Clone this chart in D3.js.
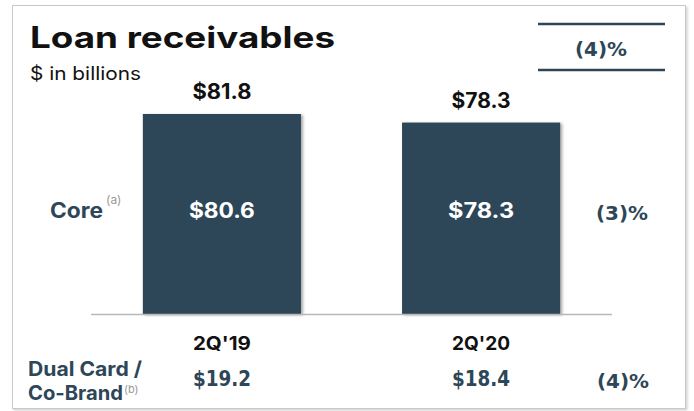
<!DOCTYPE html>
<html>
<head>
<meta charset="utf-8">
<script src="https://cdn.jsdelivr.net/npm/d3@7"></script>
<style>
  html, body { margin: 0; padding: 0; background: #fff; }
  svg { display: block; }
</style>
</head>
<body>
<script>
// Loan receivables, $ in billions
const periods = ["2Q'19", "2Q'20"];
const totals = [81.8, 78.3];
const core = [80.6, 78.3];
const dualCard = [19.2, 18.4];
const totalChange = "(4)%";
const coreChange = "(3)%";
const dualChange = "(4)%";

const W = 694, H = 411;
const slate = "#2d4658";
const geo = "Inter, 'Open Sans', sans-serif";
const din = "'DejaVu Sans Condensed', 'DejaVu Sans', sans-serif";

const svg = d3.select("body").append("svg")
  .attr("width", W).attr("height", H);

const defs = svg.append("defs");
const sh = defs.append("filter").attr("id", "barShadow")
  .attr("x", "-10%").attr("y", "-10%").attr("width", "130%").attr("height", "130%");
sh.append("feDropShadow").attr("dx", 2).attr("dy", 1).attr("stdDeviation", 1.5)
  .attr("flood-color", "#000").attr("flood-opacity", 0.35);
const fs = defs.append("filter").attr("id", "frameShadow")
  .attr("x", "-5%").attr("y", "-5%").attr("width", "110%").attr("height", "110%");
fs.append("feDropShadow").attr("dx", 1.5).attr("dy", 1.5).attr("stdDeviation", 1.2)
  .attr("flood-color", "#000").attr("flood-opacity", 0.18);

// card frame
svg.append("rect")
  .attr("x", 12.5).attr("y", 5.5).attr("width", 673).attr("height", 403)
  .attr("fill", "#fff").attr("stroke", "#c9c9c9").attr("stroke-width", 1)
  .attr("filter", "url(#frameShadow)");

// scales
const x = d3.scaleBand().domain(periods).range([91, 612])
  .paddingInner(0.39).paddingOuter(0.2);
const y = d3.scaleLinear().domain([0, d3.max(totals)]).range([314, 114]);

// wide geometric text helper
function wideText(tx, ty, str, size, weight, fill, len) {
  return svg.append("text").attr("x", tx).attr("y", ty)
    .attr("font-family", geo).attr("font-weight", weight).attr("font-size", size)
    .attr("fill", fill)
    .attr("textLength", len).attr("lengthAdjust", "spacingAndGlyphs")
    .text(str);
}

// title
wideText(30, 48, "Loan receivables", 29.5, 700, "#111", 305);
wideText(30, 80, "$ in billions", 18, 400, "#111", 111);

// bars
const rows = periods.map((p, i) => ({ p, total: totals[i], core: core[i], dual: dualCard[i] }));

svg.append("g").selectAll("rect").data(rows).join("rect")
  .attr("x", d => x(d.p)).attr("width", x.bandwidth())
  .attr("y", d => y(d.total)).attr("height", d => y(0) - y(d.total))
  .attr("fill", slate).attr("filter", "url(#barShadow)");

// baseline
svg.append("line").attr("x1", 91).attr("x2", 612)
  .attr("y1", y(0) + 0.5).attr("y2", y(0) + 0.5)
  .attr("stroke", "#b8b8b8").attr("stroke-width", 1.5);

// totals above bars
svg.append("g").selectAll("text").data(rows).join("text")
  .attr("x", d => x(d.p) + x.bandwidth() / 2).attr("y", d => y(d.total) - 15)
  .attr("text-anchor", "middle")
  .attr("font-family", geo).attr("font-weight", 700).attr("font-size", 21)
  .attr("fill", "#111")
  .attr("textLength", 59).attr("lengthAdjust", "spacingAndGlyphs")
  .text(d => "$" + d.total.toFixed(1));

// core values inside bars
svg.append("g").selectAll("text").data(rows).join("text")
  .attr("x", d => x(d.p) + x.bandwidth() / 2).attr("y", 218)
  .attr("text-anchor", "middle")
  .attr("font-family", geo).attr("font-weight", 700).attr("font-size", 21)
  .attr("fill", "#fff")
  .attr("textLength", 66).attr("lengthAdjust", "spacingAndGlyphs")
  .text(d => "$" + d.core.toFixed(1));

// period labels
svg.append("g").selectAll("text").data(rows).join("text")
  .attr("x", d => x(d.p) + x.bandwidth() / 2).attr("y", 350)
  .attr("text-anchor", "middle")
  .attr("font-family", geo).attr("font-weight", 700).attr("font-size", 19)
  .attr("fill", "#111")
  .attr("textLength", 58).attr("lengthAdjust", "spacingAndGlyphs")
  .text(d => d.p);

// dual card / co-brand values
svg.append("g").selectAll("text").data(rows).join("text")
  .attr("x", d => x(d.p) + x.bandwidth() / 2).attr("y", 386)
  .attr("text-anchor", "middle")
  .attr("font-family", din).attr("font-weight", 700).attr("font-size", 21)
  .attr("fill", slate)
  .attr("textLength", 58).attr("lengthAdjust", "spacingAndGlyphs")
  .text(d => "$" + d.dual.toFixed(1));

// row labels
wideText(50, 218, "Core", 21, 700, slate, 53);
svg.append("text").attr("x", 106).attr("y", 204)
  .attr("font-family", geo).attr("font-size", 12).attr("fill", "#9a9a9a")
  .text("(a)");

wideText(28, 376, "Dual Card /", 20, 700, slate, 114);
wideText(28, 400, "Co-Brand", 20, 700, slate, 95);
svg.append("text").attr("x", 124).attr("y", 393)
  .attr("font-family", geo).attr("font-size", 11).attr("fill", "#9a9a9a")
  .text("(b)");

// change column
svg.append("line").attr("x1", 538).attr("x2", 665).attr("y1", 24).attr("y2", 24)
  .attr("stroke", slate).attr("stroke-width", 2.5);
svg.append("line").attr("x1", 538).attr("x2", 665).attr("y1", 70).attr("y2", 70)
  .attr("stroke", slate).attr("stroke-width", 2.5);

function changeText(cx, cy, str) {
  svg.append("text").attr("x", cx).attr("y", cy).attr("text-anchor", "middle")
    .attr("font-family", din).attr("font-weight", 700).attr("font-size", 20)
    .attr("fill", slate)
    .attr("textLength", 52).attr("lengthAdjust", "spacingAndGlyphs")
    .text(str);
}
changeText(601, 56, totalChange);
changeText(622, 220, coreChange);
changeText(623, 388, dualChange);
</script>
</body>
</html>
